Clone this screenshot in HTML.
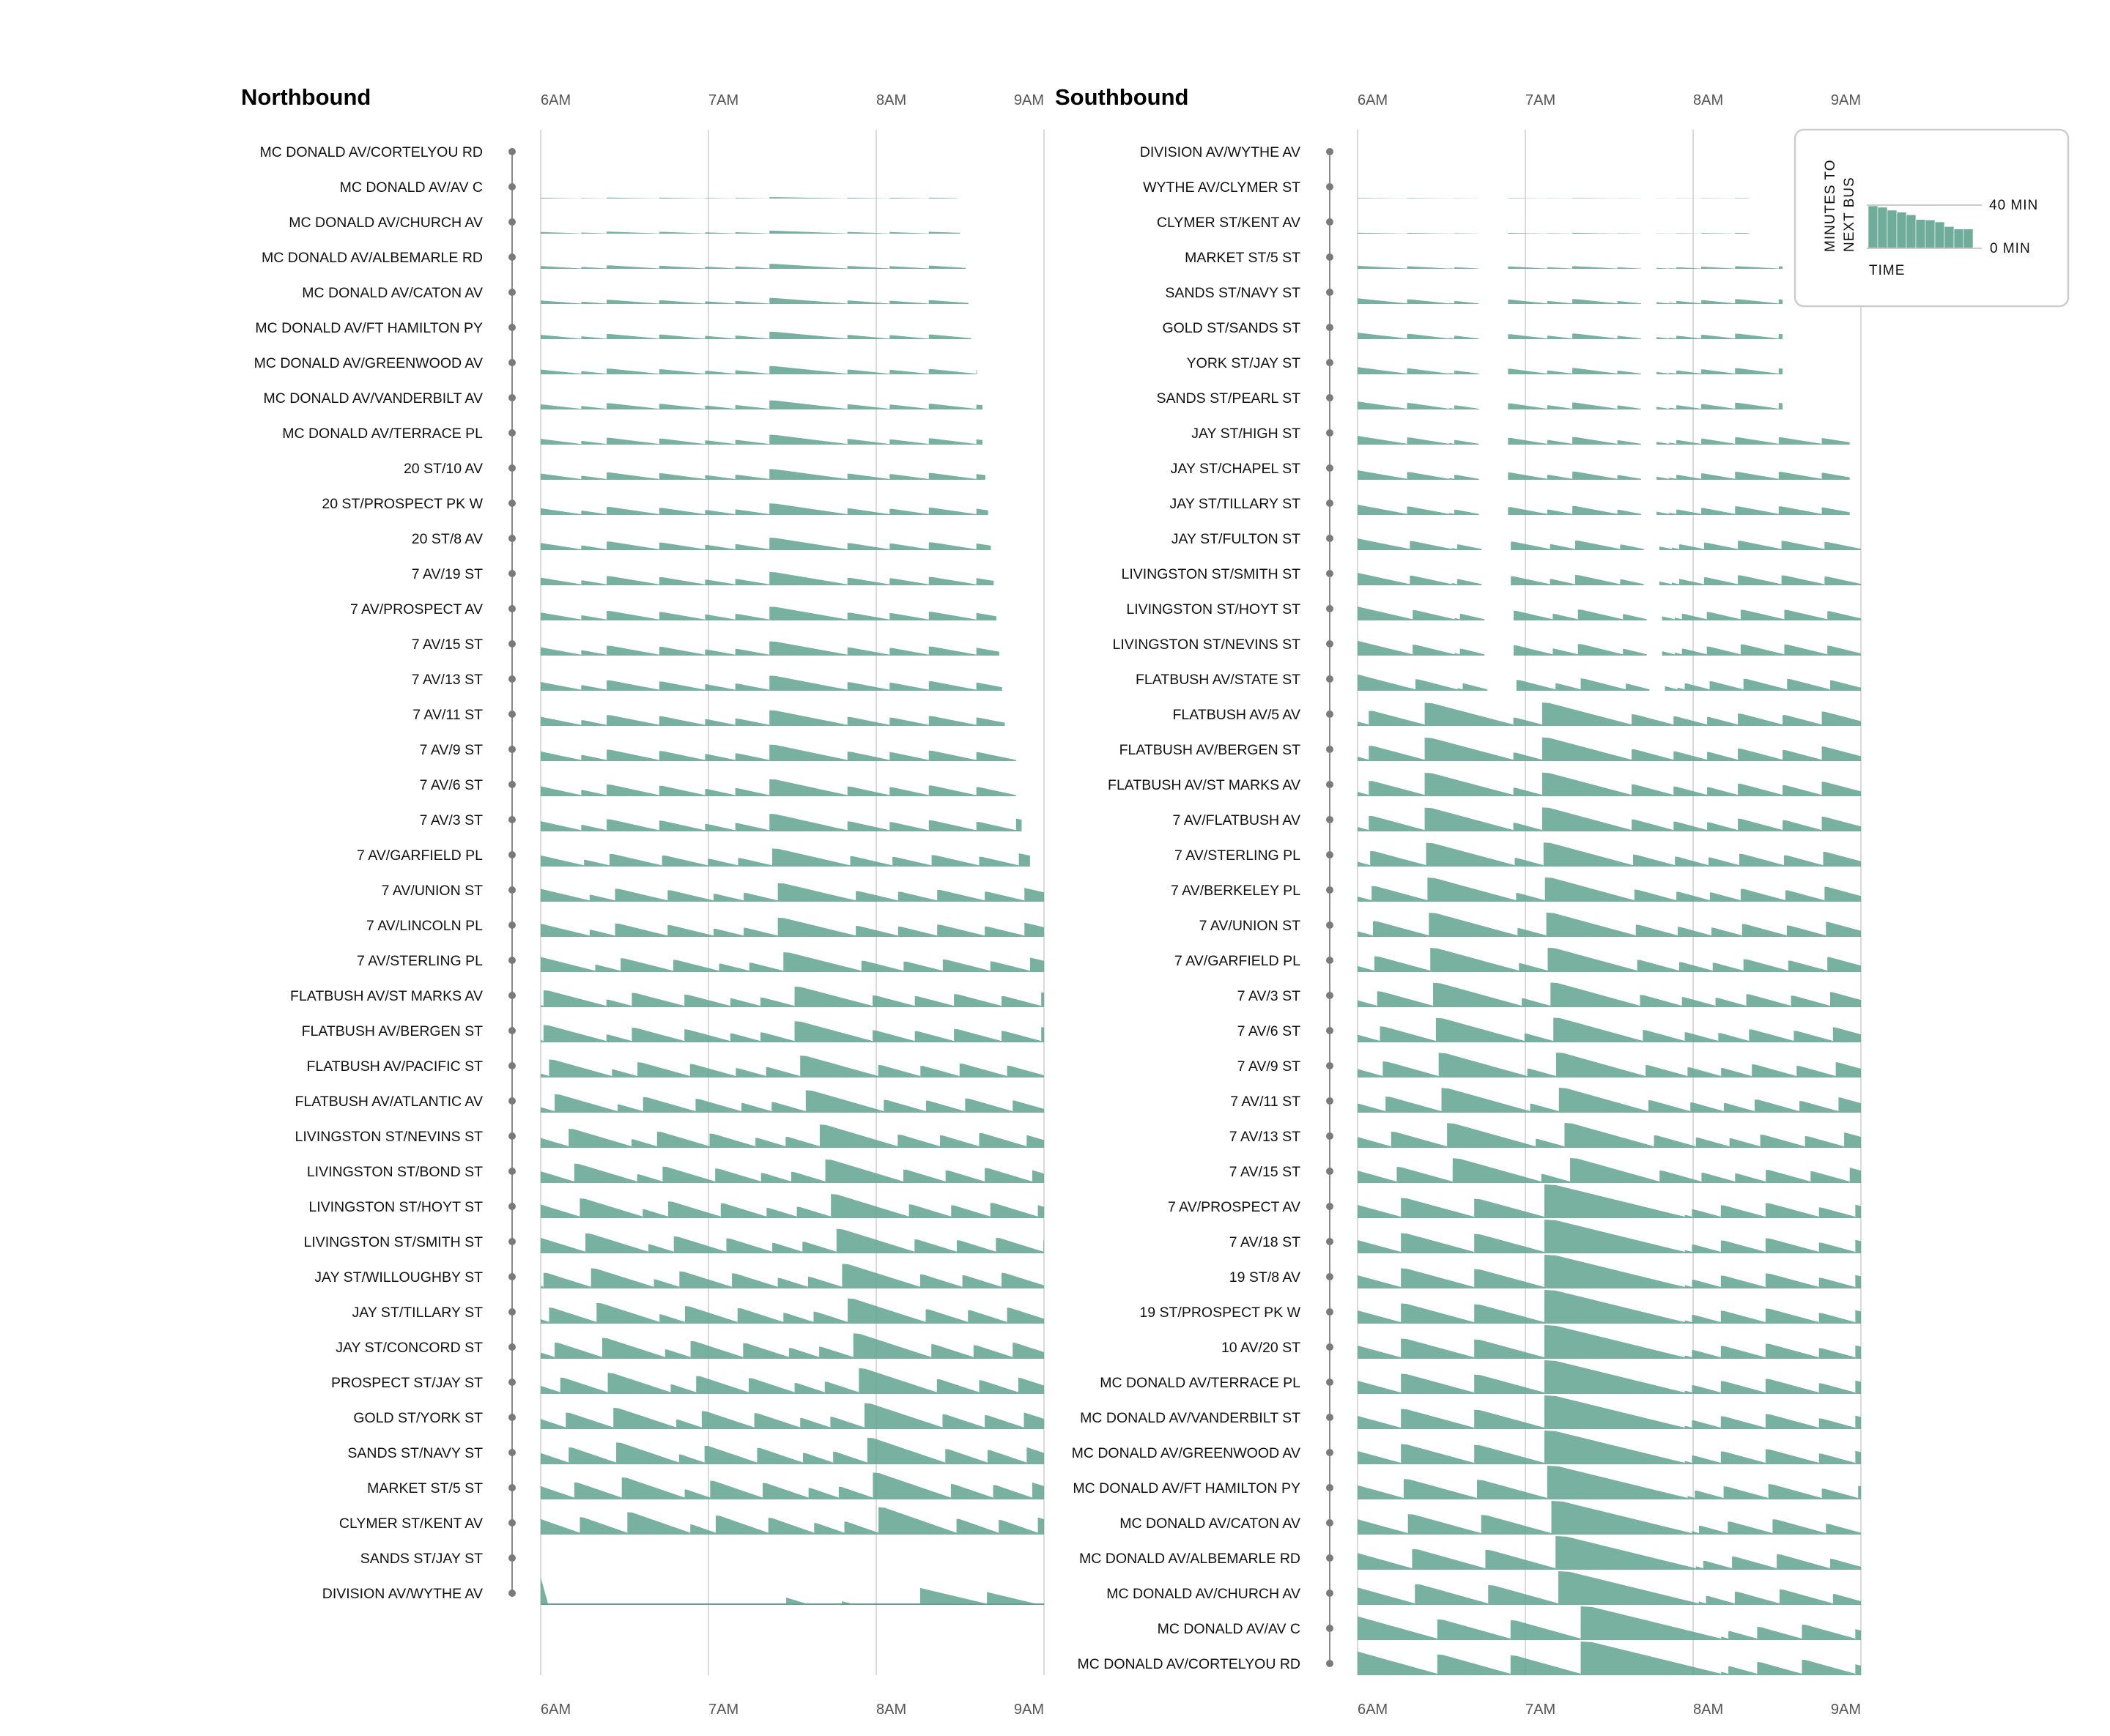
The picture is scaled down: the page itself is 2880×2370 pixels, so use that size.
<!DOCTYPE html>
<html><head><meta charset="utf-8">
<style>
html,body{margin:0;padding:0;background:#fff;}
svg{display:block;font-family:"Liberation Sans",sans-serif;}
.lbl{font-size:19.5px;fill:#111;}
.tick{font-size:20px;fill:#555;}
.ttl{font-size:31px;font-weight:bold;fill:#000;}
.lg{font-size:19px;fill:#111;letter-spacing:1px;}
</style></head>
<body>
<svg id="chart" width="2880" height="2370" viewBox="0 0 2880 2370" xmlns="http://www.w3.org/2000/svg">
<defs>
<clipPath id="clipN"><rect x="738" y="150" width="687" height="2150"/></clipPath>
<clipPath id="clipS"><rect x="1853" y="150" width="687" height="2150"/></clipPath>
</defs>
<g id="grid"></g>
<g id="north" clip-path="url(#clipN)"></g>
<g id="south" clip-path="url(#clipS)"></g>
<g id="labels"></g>
<text class="ttl" x="329" y="143">Northbound</text>
<text class="ttl" x="1440" y="143">Southbound</text>
<g id="legend">
<rect x="2450" y="177" width="373" height="241" rx="12" fill="#fff" stroke="#ccc" stroke-width="2.5"/>
<g id="legendBars"></g>
<line x1="2548" y1="280" x2="2705" y2="280" stroke="#ccc" stroke-width="2"/>
<line x1="2548" y1="339" x2="2705" y2="339" stroke="#ccc" stroke-width="2"/>
<text class="lg" x="2715" y="286">40 MIN</text>
<text class="lg" x="2716" y="345">0 MIN</text>
<text class="lg" x="2551" y="375">TIME</text>
<text class="lg" transform="translate(2504,344) rotate(-90)">MINUTES TO</text>
<text class="lg" transform="translate(2530,344) rotate(-90)">NEXT BUS</text>
</g>
</svg>
<script>
// ---------- data ----------
const tickLabels = ["6AM","7AM","8AM","9AM"];
const tickMinutes = [0,60,120,180];
const northStops = ["MC DONALD AV/CORTELYOU RD","MC DONALD AV/AV C","MC DONALD AV/CHURCH AV","MC DONALD AV/ALBEMARLE RD","MC DONALD AV/CATON AV","MC DONALD AV/FT HAMILTON PY","MC DONALD AV/GREENWOOD AV","MC DONALD AV/VANDERBILT AV","MC DONALD AV/TERRACE PL","20 ST/10 AV","20 ST/PROSPECT PK W","20 ST/8 AV","7 AV/19 ST","7 AV/PROSPECT AV","7 AV/15 ST","7 AV/13 ST","7 AV/11 ST","7 AV/9 ST","7 AV/6 ST","7 AV/3 ST","7 AV/GARFIELD PL","7 AV/UNION ST","7 AV/LINCOLN PL","7 AV/STERLING PL","FLATBUSH AV/ST MARKS AV","FLATBUSH AV/BERGEN ST","FLATBUSH AV/PACIFIC ST","FLATBUSH AV/ATLANTIC AV","LIVINGSTON ST/NEVINS ST","LIVINGSTON ST/BOND ST","LIVINGSTON ST/HOYT ST","LIVINGSTON ST/SMITH ST","JAY ST/WILLOUGHBY ST","JAY ST/TILLARY ST","JAY ST/CONCORD ST","PROSPECT ST/JAY ST","GOLD ST/YORK ST","SANDS ST/NAVY ST","MARKET ST/5 ST","CLYMER ST/KENT AV","SANDS ST/JAY ST","DIVISION AV/WYTHE AV"];
const southStops = ["DIVISION AV/WYTHE AV","WYTHE AV/CLYMER ST","CLYMER ST/KENT AV","MARKET ST/5 ST","SANDS ST/NAVY ST","GOLD ST/SANDS ST","YORK ST/JAY ST","SANDS ST/PEARL ST","JAY ST/HIGH ST","JAY ST/CHAPEL ST","JAY ST/TILLARY ST","JAY ST/FULTON ST","LIVINGSTON ST/SMITH ST","LIVINGSTON ST/HOYT ST","LIVINGSTON ST/NEVINS ST","FLATBUSH AV/STATE ST","FLATBUSH AV/5 AV","FLATBUSH AV/BERGEN ST","FLATBUSH AV/ST MARKS AV","7 AV/FLATBUSH AV","7 AV/STERLING PL","7 AV/BERKELEY PL","7 AV/UNION ST","7 AV/GARFIELD PL","7 AV/3 ST","7 AV/6 ST","7 AV/9 ST","7 AV/11 ST","7 AV/13 ST","7 AV/15 ST","7 AV/PROSPECT AV","7 AV/18 ST","19 ST/8 AV","19 ST/PROSPECT PK W","10 AV/20 ST","MC DONALD AV/TERRACE PL","MC DONALD AV/VANDERBILT ST","MC DONALD AV/GREENWOOD AV","MC DONALD AV/FT HAMILTON PY","MC DONALD AV/CATON AV","MC DONALD AV/ALBEMARLE RD","MC DONALD AV/CHURCH AV","MC DONALD AV/AV C","MC DONALD AV/CORTELYOU RD"];
// bus passage times (minutes after 6AM) at reference stop
const northTrips = [-40,-25,-8,14.5,23.6,42.4,58.8,69.6,81.8,109.7,124.8,138.8,155.8,170,190];
const northOffsets = [0,0,0,0,0,0,0,0,0,0,0,0,0,0,0,0,0,0,0,0,1,3,3,5,9,9,11,13,18,20,22,24,26,28,30,32,34,35,37,39,40,41];
const northCoverage = [0,0.05,0.11,0.18,0.22,0.27,0.3,0.33,0.36,0.39,0.42,0.45,0.48,0.5,0.52,0.55,0.57,0.6,0.62,0.64,0.66,0.68,0.7,0.72,0.75,0.77,0.8,0.82,0.85,0.86,0.88,0.89,0.9,0.92,0.93,0.94,0.95,0.97,0.98,1,0,0];
const northObsEnd = [149,149,150,152,153,154,156,158,158,159,160,161,162,163,164,165,166,170,170,172,175,180,180,180,180,180,180,180,180,180,180,180,180,180,180,180,180,180,180,180,180,180];
// Division Av (last northbound stop): start, end, minutes at start
const divisionStarts = [0,87.8,107.7,135.7,159.6];
const divisionEnds = [2.5,95.6,112,158.8,176.9];
const divisionWaits = [30,8,4,18.5,14];

// southbound trip sets: A = Williamsburg/Downtown rows, C = Flatbush/7 Av rows, B = Park Slope/Kensington rows
const southTripsA = [-5,17.7,32.7,34.6,43.4,53.8,67.8,76.8,92.9,101.4,106.9,111.4,114,122.9,135,150.6,166,179.4,195];
const southGapStarts = [43.4,101.4];
const southGapEnds = [53.8,106.9];
const southTripsC = [-15,4,24,55.7,66,98,113,125,136,152,166,185];
const southTripsB = [-50,-20,15.5,41.7,66.8,117,119.6,129.9,145.9,165,178,195];
const southTripSet = ["A","A","A","A","A","A","A","A","A","A","A","A","A","A","A","A","C","C","C","C","C","C","C","C","C","C","C","C","C","C","B","B","B","B","B","B","B","B","B","B","B","B","B","B"];
const southOffsets = [0,0,0,0,0,0,0,0,0,0,0,1,1,2,2,3,0,0,0,0,0.5,1,1.5,2,3,4,5,6,8,10,0,0,0,0,0,0,0,0,1,2.5,4,5,13,13];
const southCoverage = [0,0.03,0.05,0.16,0.3,0.34,0.38,0.42,0.46,0.5,0.54,0.58,0.62,0.66,0.7,0.74,0.75,0.76,0.76,0.77,0.77,0.78,0.78,0.78,0.79,0.79,0.8,0.8,0.8,0.8,0.78,0.78,0.78,0.78,0.78,0.78,0.78,0.78,0.79,0.79,0.8,0.8,0.8,0.8];
const southObsEnd = [0,140,140,152,152,152,152,152,176,176,176,180,180,180,180,180,180,180,180,180,180,180,180,180,180,180,180,180,180,180,180,180,180,180,180,180,180,180,180,180,180,180,180,180];

const legendValues = [39.3,38,35.3,33.4,31,26.7,26.2,24.4,20.1,17.9,17.9];

// ---------- scales ----------
const NS = "http://www.w3.org/2000/svg";
const PX_PER_MIN_X = 229/60, PX_PER_MIN_Y = 1.25;
const xN = t => 738 + t*PX_PER_MIN_X;
const xS = t => 1853 + t*PX_PER_MIN_X;
const rowY = i => 207 + 48*i;
const baseY = i => rowY(i) + 16;
const FILL = "rgb(96,163,143)";

function mk(tag, attrs, parent){
  const e = document.createElementNS(NS, tag);
  for (const k in attrs) e.setAttribute(k, attrs[k]);
  parent.appendChild(e);
  return e;
}
const grid = document.getElementById('grid');
const labels = document.getElementById('labels');

[[xN,'north'],[xS,'south']].forEach(([xf,side])=>{
  tickMinutes.forEach((m,k)=>{
    const x = xf(m);
    const top = (side==='south' && k===3) ? 418 : 177;
    const ln = mk('line',{x1:x,y1:top,x2:x,y2:2287,stroke:'#dadada','stroke-width':2},grid);
    
    
    [143,2340].forEach((yy,j)=>{
      const tx = mk('text',{x:x,y:yy,'class':'tick','text-anchor':k===3?'end':'start'},labels);
      tx.textContent = tickLabels[k];
      
      
    });
  });
});

function stopAxis(stops, dotX, side){
  const ax = mk('line',{x1:dotX,y1:rowY(0),x2:dotX,y2:rowY(stops.length-1),stroke:'#8a8a8a','stroke-width':2},labels);
  
  
  stops.forEach((s,i)=>{
    const c = mk('circle',{cx:dotX,cy:rowY(i),r:5,fill:'#7a7a7a'},labels);
    
    
    const t = mk('text',{x:dotX-40,y:rowY(i)+7,'class':'lbl','text-anchor':'end'},labels);
    t.textContent = s;
    
    
  });
}
stopAxis(northStops, 699, 'northbound');
stopAxis(southStops, 1815, 'southbound');

function drawRow(g, xf, i, trips, off, cov, obsEnd, gS, gE, side){
  if (cov <= 0) return;
  const b = baseY(i);
  const h = w => Math.min(46, cov*(w+2)*PX_PER_MIN_Y);
  for (let k=0;k<trips.length-1;k++){
    const a = trips[k]+off, n = trips[k+1]+off;
    if (a >= obsEnd || n <= 0) continue;
    let gap = false;
    for (let q=0;q<gS.length;q++){ if (a < gE[q]+off-0.01 && n > gS[q]+off+0.01) gap = true; }
    if (gap) continue;
    const e = Math.min(n, obsEnd);
    const f = a + (e-a)*0.08;
    const pts = [[xf(a),b],[xf(a),b-h(n-a)],[xf(f),b-h(n-a)*0.98],[xf(e),b-h(n-e)],[xf(e),b]].map(p=>p.join(',')).join(' ');
    const p = mk('polygon',{points:pts,fill:FILL,'fill-opacity':0.85},g);
    
    
  }
}
const gN = document.getElementById('north');
northStops.forEach((s,i)=>drawRow(gN,xN,i,northTrips,northOffsets[i],northCoverage[i],northObsEnd[i],[],[],'northbound'));
(function(){
  const i = northStops.length-1, b = baseY(i);
  const ln = mk('line',{x1:xN(0),y1:b-1,x2:xN(180),y2:b-1,stroke:FILL,'stroke-width':2},gN);
  
  
  divisionStarts.forEach((s,k)=>{
    const e = divisionEnds[k], w = divisionWaits[k];
    const hh = Math.min(46, w*PX_PER_MIN_Y);
    const pts = [[xN(s),b],[xN(s),b-hh],[xN(e),b-Math.max(1,hh*0.1)],[xN(e),b]].map(p=>p.join(',')).join(' ');
    const p = mk('polygon',{points:pts,fill:FILL,'fill-opacity':0.85},gN);
    
    
  });
})();
const gS = document.getElementById('south');
southStops.forEach((s,i)=>{
  const set = southTripSet[i];
  const trips = set==="A" ? southTripsA : (set==="C" ? southTripsC : southTripsB);
  drawRow(gS,xS,i,trips,southOffsets[i],southCoverage[i],southObsEnd[i],set==="A"?southGapStarts:[],set==="A"?southGapEnds:[],'southbound');
});

const lb = document.getElementById('legendBars');
const bw = (2693-2550)/legendValues.length;
legendValues.forEach((v,k)=>{
  const hh = v*59/40;
  const r = mk('rect',{x:2550+k*bw,y:339-hh,width:bw,height:hh,fill:FILL,'fill-opacity':0.9,stroke:'#fff','stroke-width':0.6},lb);
  
  
});
</script>
</body></html>
